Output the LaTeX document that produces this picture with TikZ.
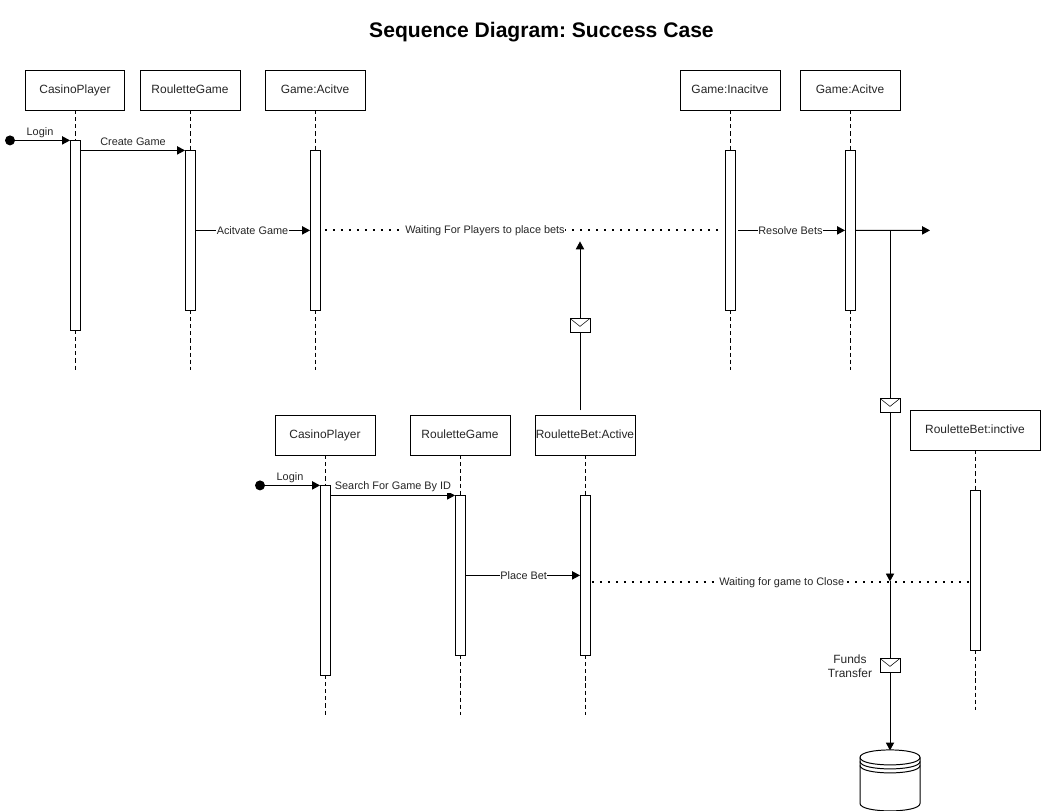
\documentclass[tikz,border=0pt]{standalone}
\usepackage{fontspec}
\usepackage{tikz}
\usetikzlibrary{arrows.meta,calc,positioning}
\setmainfont{Liberation Sans}
\frenchspacing

\begin{document}
\begin{tikzpicture}[x=0.02cm,y=-0.02cm,>={Triangle[length=4.5pt,width=4.7pt]},line width=0.56pt,every node/.style={font=\fontsize{6.8}{8}\selectfont,text=black!85}]
  \tikzset{
    headbox/.style={draw,fill=white,minimum width=2cm,minimum height=0.8cm,inner sep=0pt,outer sep=0pt,text height=4.9pt,text depth=1.4pt},
    barbox/.style={draw,fill=white,anchor=north,minimum width=0.2cm,inner sep=0pt,outer sep=0pt},
    envelope/.style={draw,fill=white,minimum width=0.4cm,minimum height=0.28cm,inner sep=0pt,outer sep=0pt,
      path picture={\draw[line width=0.3pt] (path picture bounding box.north west) -- ($(path picture bounding box.center)+(0,1)$) -- (path picture bounding box.north east);}},
    lifeline/.style={dash pattern=on 2.3pt off 1.7pt},
    msg/.style={draw,->},
    waitline/.style={draw,line width=1.15pt,dash pattern=on 1.15pt off 3.39pt},
    smalllabel/.style={font=\fontsize{6.2}{8}\selectfont},
    edgelabel/.style={smalllabel,fill=white,inner xsep=0.3pt,inner ysep=0.5pt,yshift=-0.3pt},
    startdot/.style={circle,fill=black,minimum size=0.2cm,inner sep=0pt}
  }
  \useasboundingbox (0,-0.4) rectangle (1041,810.6);
  \node[font=\bfseries\fontsize{12}{14}\selectfont,text=black] (title) at (541.5,32) {Sequence Diagram: Success Case};

  % first row
  \node[headbox] (cp1) at (75,90) {CasinoPlayer};
  \node[headbox] (rg1) at (190,90) {RouletteGame};
  \node[headbox] (ga1) at (315,90) {Game:Acitve};
  \node[headbox] (gi1) at (730,90) {Game:Inacitve};
  \node[headbox] (ga2) at (850,90) {Game:Acitve};
  \node[barbox,minimum height=3.8cm] (cpbar1) at (75,140) {};
  \node[barbox,minimum height=3.2cm] (rgbar1) at (190,150) {};
  \node[barbox,minimum height=3.2cm] (gabar1) at (315,150) {};
  \node[barbox,minimum height=3.2cm] (gibar1) at (730,150) {};
  \node[barbox,minimum height=3.2cm] (gabar2) at (850,150) {};
  \coordinate (cpend1) at (75,370);
  \coordinate (rgend1) at (190,370);
  \coordinate (gaend1) at (315,370);
  \coordinate (giend1) at (730,370);
  \coordinate (gaend2) at (850,370);
  \foreach \n/\b/\e in {cp1/cpbar1/cpend1,rg1/rgbar1/rgend1,ga1/gabar1/gaend1,gi1/gibar1/giend1,ga2/gabar2/gaend2}{
    \draw[lifeline] (\n) -- (\b);
    \draw[lifeline] (\b) -- (\e);
  }

  % second row
  \node[headbox] (cp2) at (325,435) {CasinoPlayer};
  \node[headbox] (rg2) at (460,435) {RouletteGame};
  \node[headbox] (rb1) at (585,435) {RouletteBet:Active};
  \node[headbox,minimum width=2.6cm] (rb2) at (975,430) {RouletteBet:inctive};
  \node[barbox,minimum height=3.8cm] (cpbar2) at (325,485) {};
  \node[barbox,minimum height=3.2cm] (rgbar2) at (460,495) {};
  \node[barbox,minimum height=3.2cm] (rbbar1) at (585,495) {};
  \node[barbox,minimum height=3.2cm] (rbbar2) at (975,490) {};
  \coordinate (cpend2) at (325,715);
  \coordinate (rgend2) at (460,715);
  \coordinate (rbend1) at (585,715);
  \coordinate (rbend2) at (975,710);
  \foreach \n/\b/\e in {cp2/cpbar2/cpend2,rg2/rgbar2/rgend2,rb1/rbbar1/rbend1,rb2/rbbar2/rbend2}{
    \draw[lifeline] (\n) -- (\b);
    \draw[lifeline] (\b) -- (\e);
  }

  % messages of the first row
  \node[startdot] (start1) at (10,140) {};
  \draw[msg] (start1) -- (cpbar1.north west);
  \node[smalllabel] (login1) at (40,132.5) {Login};
  \draw[msg] (cpbar1.east |- rgbar1.north) -- (rgbar1.north west);
  \node[smalllabel] (create) at (133,141.5) {Create Game};
  \draw[msg] (rgbar1.east) -- node[edgelabel,pos=0.5] (activate) {Acitvate Game} (gabar1.west);
  \coordinate (wait1s) at (325,230);
  \coordinate (wait1e) at (720,230);
  \draw[waitline] (wait1s) -- node[edgelabel,pos=0.405] (wait1) {Waiting For Players to place bets} (wait1e);
  \draw[msg] ($(gibar1.east)+(3,0)$) -- node[edgelabel,pos=0.49] (resolve) {Resolve Bets} (gabar2.west);
  \coordinate (out) at (930,230);
  \coordinate (branch) at (890,230);
  \draw[msg] (gabar2.east) -- (out);

  % messages of the second row
  \node[startdot] (start2) at (260,485) {};
  \draw[msg] (start2) -- (cpbar2.north west);
  \node[smalllabel] (login2) at (290,477.5) {Login};
  \draw[msg] (cpbar2.east |- rgbar2.north) -- (rgbar2.north west);
  \node[edgelabel,yshift=0.3pt] (search) at (393,486.5) {Search For Game By ID};
  \draw[msg] (rgbar2.east) -- node[edgelabel,pos=0.51] (place) {Place Bet} (rbbar1.west);
  \coordinate (wait2s) at (592,582);
  \coordinate (wait2e) at (970,582);

  % the bet goes up, the funds go down
  \coordinate (betfoot) at (580,410);
  \coordinate (bettop) at (580,241);
  \node[envelope] (env1) at (580,325) {};
  \draw (betfoot) -- (env1);
  \draw[msg] (env1) -- (bettop);
  \coordinate (closed) at (890,581);
  \node[envelope] (env2) at (890,405) {};
  \node[envelope] (env3) at (890,665) {};
  \draw (branch) -- (env2);
  \draw[msg] (env2) -- (closed);
  \draw[waitline] (wait2s) -- node[edgelabel,pos=0.502] (wait2) {Waiting for game to Close} (wait2e);
  \node[inner sep=0pt,minimum width=1.2cm,minimum height=1.2cm,outer sep=0pt] (db) at (890,780) {};
  \draw (closed) -- (env3);
  \draw[msg] (env3) -- (db.north);
  \node[align=center] (funds) at (850,665.5) {Funds\\Transfer};

  % data store
  \draw[fill=white] (860,757) .. controls (860,747) and (920,747) .. (920,757) -- (920,803)
    .. controls (920,813) and (860,813) .. (860,803) -- cycle;
  \draw (860,757) .. controls (860,767) and (920,767) .. (920,757);
  \draw (860,761) .. controls (860,771) and (920,771) .. (920,761);
  \draw (860,765) .. controls (860,775) and (920,775) .. (920,765);
\end{tikzpicture}
\end{document}
